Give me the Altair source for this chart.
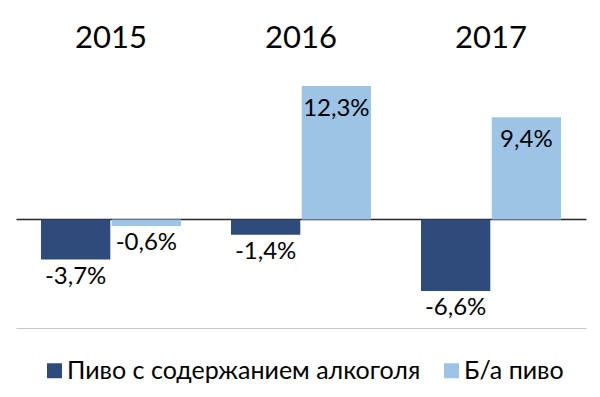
import altair as alt
import pandas as pd

years = ["2015", "2016", "2017"]
series = ["Пиво с содержанием алкоголя", "Б/а пиво"]
alco = [-3.7, -1.4, -6.6]
nonalco = [-0.6, 12.3, 9.4]
colors = ["#2F4B7C", "#9DC3E6"]

rows = []
for i, yr in enumerate(years):
    for s, vals in zip(series, [alco, nonalco]):
        v = vals[i]
        rows.append({"year": yr, "series": s, "value": v,
                     "label": f"{v:.1f}%".replace(".", ",")})
df = pd.DataFrame(rows)

W, H = 570, 266
FONT = "Lato"

x = alt.X("year:N", sort=years,
          scale=alt.Scale(paddingInner=0.263, paddingOuter=0.1315),
          axis=alt.Axis(orient="top", title=None, ticks=False, domain=False,
                        labelAngle=0, labelFontSize=31, labelFont=FONT,
                        labelColor="#000", labelPadding=8, grid=False))
y = alt.Y("value:Q", scale=alt.Scale(domain=[-10, 14.5], nice=False, zero=False),
          axis=alt.Axis(values=[-10, 0], grid=True, labels=False, ticks=False,
                        domain=False, title=None,
                        gridColor=alt.condition("datum.value == 0", alt.value("#262626"), alt.value("#C8C8C8")),
                        gridWidth=alt.condition("datum.value == 0", alt.value(1.5), alt.value(1.2))))
xo = alt.XOffset("series:N", sort=series, scale=alt.Scale(paddingInner=0.02))
color = alt.Color("series:N", sort=series,
                  scale=alt.Scale(domain=series, range=colors),
                  legend=alt.Legend(orient="none", legendX=26, legendY=296,
                                    direction="horizontal", title=None,
                                    symbolType="square", symbolSize=225,
                                    symbolStrokeWidth=0, labelFont=FONT,
                                    labelFontSize=25, labelColor="#000",
                                    labelOffset=0, columnPadding=18, labelLimit=600))

base = alt.Chart(df)
bars = base.mark_bar().encode(x=x, y=y, xOffset=xo, color=color)

pos = base.mark_text(dy=23, fontSize=24, font=FONT, color="#000").encode(
    x=x, xOffset=xo, y=y, text="label:N").transform_filter("datum.value > 0")
neg = base.mark_text(dy=17, fontSize=24, font=FONT, color="#000").encode(
    x=x, xOffset=xo, y=y, text="label:N").transform_filter("datum.value <= 0")

chart = alt.layer(bars, pos, neg).properties(
    width=W, height=H,
    autosize=alt.AutoSizeParams(type="none"),
    padding={"left": 8, "top": 54, "right": 6, "bottom": 61},
    background="white",
).configure_view(stroke=None)

chart.save("out.html", embed_options={"renderer": "svg", "actions": False})
